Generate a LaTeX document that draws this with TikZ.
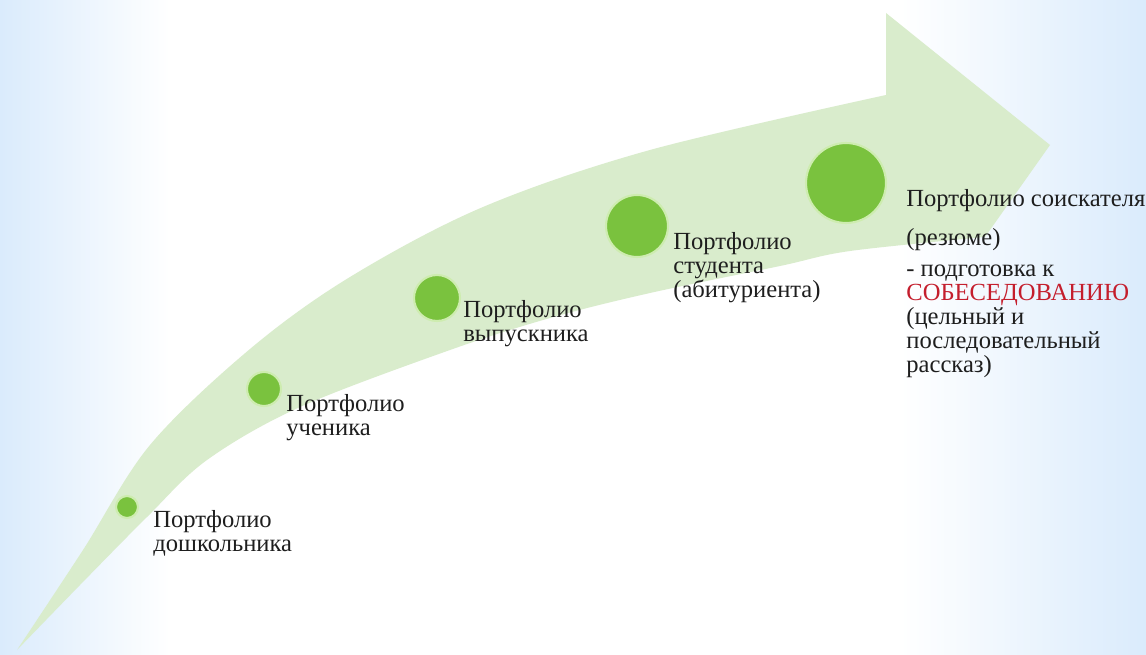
\documentclass[tikz,border=0pt]{standalone}
\usepackage{fontspec}
\setmainfont{Liberation Serif}
\newfontfamily\labelfont{Liberation Serif}
\usetikzlibrary{shapes.geometric,fadings}
\definecolor{bandgreen}{RGB}{217,236,204}
\definecolor{dotgreen}{RGB}{122,194,62}
\definecolor{halo}{RGB}{206,236,176}
\definecolor{skyblue}{RGB}{218,235,252}
\definecolor{txt}{RGB}{30,30,30}
\definecolor{redtxt}{RGB}{196,30,45}
\tikzfading[name=midstreak, top color=transparent!100, middle color=transparent!0, bottom color=transparent!100]
\tikzset{
  dot/.style={circle, fill=dotgreen, draw=halo, line width=1.2pt, inner sep=0pt},
  lbl/.style={anchor=base west, align=left, inner sep=0pt, text=txt,
    font=\labelfont\fontsize{14pt}{13.6pt}\selectfont},
  streak/.style={fill=skyblue, path fading=midstreak, fit fading=true},
}
\begin{document}
\begin{tikzpicture}[x=0.02cm, y=-0.02cm]
\useasboundingbox (0,0) rectangle (1146,655);
% background
\fill[white] (0,0) rectangle (1146,655);
\shade[left color=skyblue, right color=white] (0,0) rectangle (170,655);
\shade[left color=white, right color=skyblue] (900,0) rectangle (1146,655);
\fill[streak, opacity=0.6] (0,425) rectangle (1146,525);
\fill[streak, opacity=0.45] (0,560) rectangle (1146,635);
% curved arrow band
\fill[bandgreen]
  plot[smooth, tension=0.55] coordinates {(17,650) (83,550) (150,445) (250,349) (350,277) (483,207) (650,150) (886,95)}
  -- (886,13) -- (1050,145) -- (985,237)
  -- plot[smooth, tension=0.55] coordinates {(985,237) (850,251) (780,266) (650,293) (550,318) (450,350) (300,407) (207,460) (147,517) (80,585) (17,650)}
  -- cycle;
% dots
\node[dot, minimum size=0.44cm] (c1) at (127,507) {};
\node[dot, minimum size=0.68cm] (c2) at (264,389) {};
\node[dot, minimum size=0.92cm] (c3) at (437,298) {};
\node[dot, minimum size=1.24cm] (c4) at (637,226) {};
\node[dot, minimum size=1.60cm] (c5) at (846,183) {};
% labels (anchored at the baseline of the last line)
\node[lbl] (t1) at (153,551) {Портфолио\\дошкольника};
\node[lbl] (t2) at (286,435) {Портфолио\\ученика};
\node[lbl] (t3) at (463,341) {Портфолио\\выпускника};
\node[lbl] (t4) at (673,297) {Портфолио\\студента\\(абитуриента)};
\node[lbl] (t5) at (906,372) {Портфолио соискателя\\[8.5pt](резюме)\\[4pt]- подготовка к\\\textcolor{redtxt}{СОБЕСЕДОВАНИЮ}\\(цельный и\\последовательный\\рассказ)};
\end{tikzpicture}
\end{document}
